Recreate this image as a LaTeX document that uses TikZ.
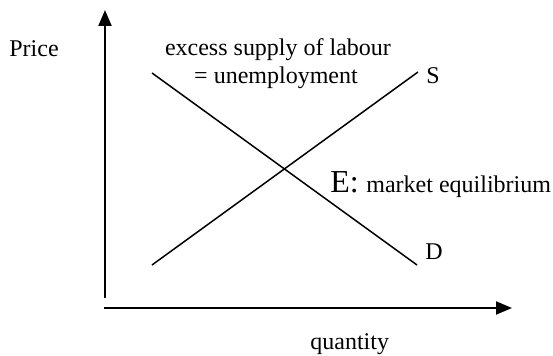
\documentclass[tikz,border=0pt]{standalone}
\usepackage{fontspec}
\setmainfont{Liberation Serif}
\usetikzlibrary{arrows.meta}

\begin{document}
\begin{tikzpicture}[x=0.5pt,y=-0.5pt,
                    axis/.style={line width=1pt,-{Triangle[length=8pt,width=6.5pt]}},
                    curve/.style={line width=0.75pt},
                    lbl/.style={inner sep=0pt,font=\fontsize{12}{14}\selectfont},
                    big/.style={inner sep=0pt,font=\fontsize{16}{19}\selectfont}]
  \useasboundingbox (0,0) rectangle (553,356);
  % axes
  \coordinate (ybot) at (105,298);
  \coordinate (ytop) at (105,10);
  \coordinate (xleft) at (104,308);
  \coordinate (xright) at (512,308);
  \draw[axis] (ybot) -- (ytop);
  \draw[axis] (xleft) -- (xright);
  % supply and demand
  \coordinate (s0) at (152,265);
  \coordinate (s1) at (418,72);
  \coordinate (d0) at (152,73);
  \coordinate (d1) at (417,265);
  \draw[curve] (s0) -- (s1);
  \draw[curve] (d0) -- (d1);
  % labels
  \node[lbl,anchor=base west] (price) at (9,57) {Price};
  \node[lbl,anchor=base] (excess) at (278,56) {excess supply of labour};
  \node[lbl,anchor=base] (unemp) at (276,84) {= unemployment};
  \node[lbl,anchor=base west] (slabel) at (426,84) {S};
  \node[lbl,anchor=base west] (dlabel) at (425,260) {D};
  \node[big,anchor=base west] (elabel) at (330,193) {E:};
  \node[lbl,anchor=base west] (market) at (366,193) {market equilibrium};
  \node[lbl,anchor=base west] (qty) at (310,350) {quantity};
\end{tikzpicture}
\end{document}
